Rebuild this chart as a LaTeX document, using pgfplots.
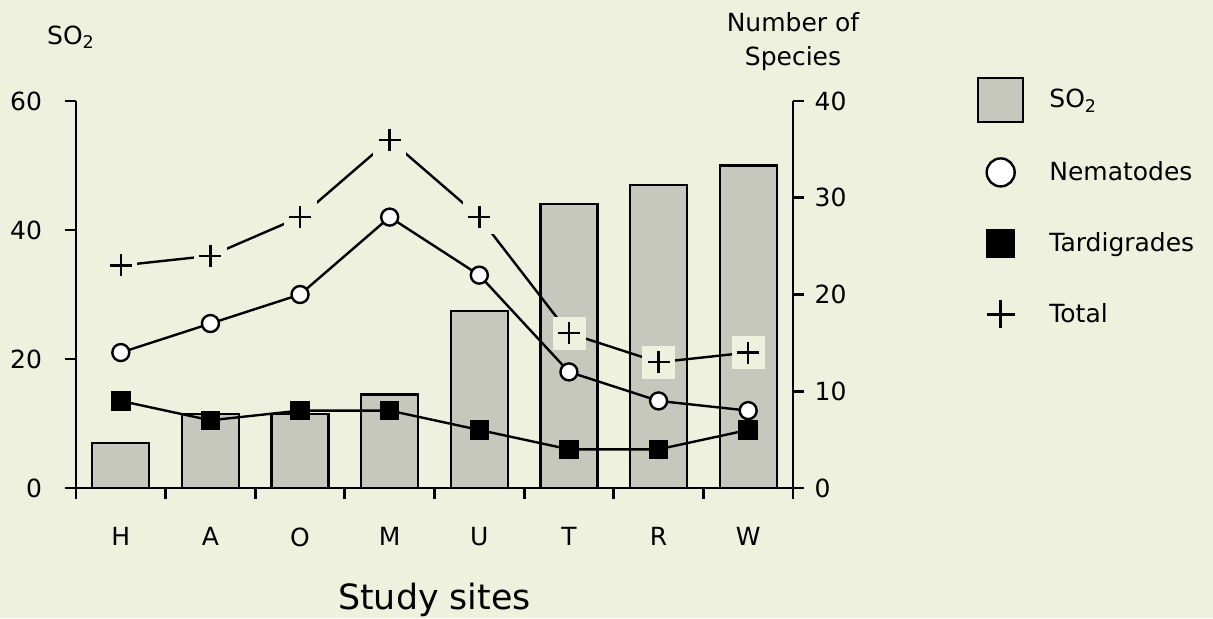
\documentclass[border=0pt]{standalone}
\usepackage{fontspec}
\setmainfont{DejaVu Sans}
\usepackage{pgfplots}
\pgfplotsset{compat=1.18}
\definecolor{bg}{HTML}{EFF1DF}
\definecolor{barc}{HTML}{C6C7BD}
\pgfplotsset{
  common/.style={
    scale only axis, width=358.5pt, height=193.5pt,
    at={(38pt,65pt)}, anchor=south west,
    xmin=-0.5, xmax=7.5, ymin=0,
    axis line style={-, line width=1.4pt, black},
    tick style={line width=1.4pt, black},
    tick align=outside,
    major tick length=5.5pt,
    /pgf/number format/assume math mode=true,
    ticklabel style={font=\fontsize{12.5}{15}\selectfont},
    label style={font=\fontsize{12.5}{15}\selectfont},
    clip=false,
  }
}
\begin{document}
\begin{tikzpicture}[font=\fontsize{12.5}{15}\selectfont]
\useasboundingbox (0,0) rectangle (606.5pt,309pt);
\fill[bg] (0,0) rectangle (606.5pt,309pt);
\begin{axis}[common, ymax=60, axis y line*=left, axis x line*=bottom,
  ytick={0,20,40,60},
  yticklabel style={xshift=-8pt},
  xtick={-0.5,0.5,...,7.5}, xticklabels={},
  extra x ticks={0,1,2,3,4,5,6,7}, extra x tick labels={H,A,O,M,U,T,R,W},
  extra x tick style={major tick length=0pt, xticklabel style={yshift=-16.25pt}},
  ylabel={SO\textsubscript{2}},
  ylabel style={rotate=-90, at={(rel axis cs:-0.007,1.165)}, anchor=center},
  xlabel={Study sites},
  xlabel style={font=\fontsize{17.4}{20}\selectfont, at={(rel axis cs:0.5,-0.288)}, anchor=center},
]
\addplot[ybar, bar width=28.5pt, fill=barc, draw=black, line width=1.1pt]
  coordinates {(0,7) (1,11.5) (2,11.5) (3,14.5) (4,27.5) (5,44) (6,47) (7,50)};
\end{axis}
\begin{axis}[common, ymax=40, axis y line*=right, axis x line=none,
  xtick=\empty,
  ytick={0,10,20,30,40},
  yticklabel style={xshift=1.8pt},
  ylabel={Number of\\Species},
  ylabel style={rotate=-90, align=center, at={(rel axis cs:1,1.153)}, anchor=center, font=\fontsize{12.5}{17}\selectfont},
  legend style={draw=none, fill=none, at={(1.2566,1.062)}, anchor=north west,
    inner sep=0pt, outer sep=0pt, row sep=13.5pt, column sep=10.5pt,
    nodes={inner sep=2pt, font=\fontsize{12.5}{15}\selectfont}},
  legend cell align=left,
]
% Total
\addplot[black, line width=1.2pt, forget plot]
  coordinates {(0,23) (1,24) (2,28) (3,36) (4,28) (5,16) (6,13) (7,14)};
\addplot[only marks, draw=bg, mark=square*, mark size=8pt, mark options={fill=bg, draw=bg}, forget plot]
  coordinates {(0,23) (1,24) (2,28) (3,36) (4,28) (5,16) (6,13) (7,14)};
\addplot[only marks, black, mark=+, mark size=5.5pt, mark options={line width=1.2pt, black}, forget plot]
  coordinates {(0,23) (1,24) (2,28) (3,36) (4,28) (5,16) (6,13) (7,14)};
% Nematodes
\addplot[black, line width=1.2pt, mark=*, mark size=4.25pt, mark options={fill=white, line width=1.2pt}, forget plot]
  coordinates {(0,14) (1,17) (2,20) (3,28) (4,22) (5,12) (6,9) (7,8)};
% Tardigrades
\addplot[black, line width=1.2pt, mark=square*, mark size=4.25pt, mark options={fill=black}, forget plot]
  coordinates {(0,9) (1,7) (2,8) (3,8) (4,6) (5,4) (6,4) (7,6)};
\addlegendimage{legend image code/.code={
  \path[draw=none, fill=none] (0pt,-11pt) rectangle (22.5pt,11pt);
  \draw[fill=barc, draw=black, line width=1.2pt] (0pt,-11pt) rectangle (22.5pt,11pt);}}
\addlegendentry{SO\textsubscript{2}}
\addlegendimage{legend image code/.code={
  \path[draw=none, fill=none] (0pt,-11pt) rectangle (22.5pt,11pt);
  \draw[fill=white, draw=black, line width=1.2pt] (11.25pt,0pt) circle (7pt);}}
\addlegendentry{Nematodes}
\addlegendimage{legend image code/.code={
  \path[draw=none, fill=none] (0pt,-11pt) rectangle (22.5pt,11pt);
  \fill[black] (4.25pt,-7pt) rectangle (18.25pt,7pt);}}
\addlegendentry{Tardigrades}
\addlegendimage{legend image code/.code={
  \path[draw=none, fill=none] (0pt,-11pt) rectangle (22.5pt,11pt);
  \draw[draw=black, line width=1.3pt] (11.25pt,-7pt) -- (11.25pt,7pt) (4.25pt,0pt) -- (18.25pt,0pt);}}
\addlegendentry{Total}
\end{axis}
\end{tikzpicture}
\end{document}
